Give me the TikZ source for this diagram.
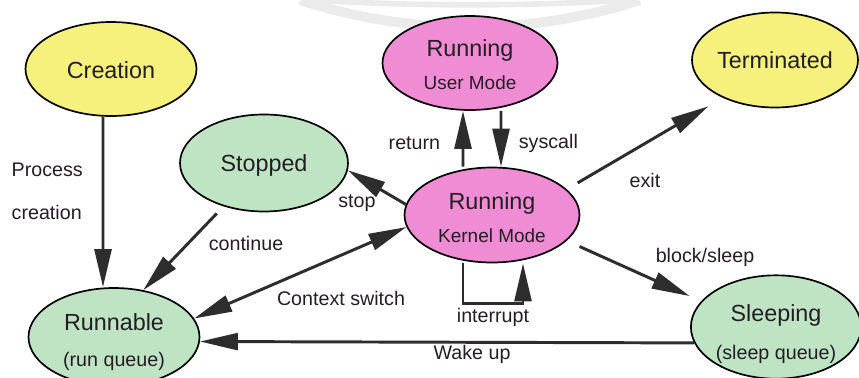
\documentclass[tikz,border=0pt]{standalone}
\usepackage{fontspec}
\setmainfont{Liberation Sans}
\usetikzlibrary{arrows.meta,
                shapes.geometric}

\definecolor{yellowstate}{RGB}{246,240,124}
\definecolor{greenstate}{RGB}{190,228,196}
\definecolor{pinkstate}{RGB}{240,140,212}
\definecolor{inkgray}{RGB}{35,30,35}
\definecolor{linegray}{RGB}{45,45,45}
\definecolor{bandgray}{RGB}{235,235,235}

\newcommand{\statesize}{\fontsize{16.6}{19}\selectfont}
\newcommand{\modesize}{\fontsize{13.5}{16}\selectfont}

\begin{document}
\begin{tikzpicture}%
            [state/.style = {ellipse, draw = black, line width = 1.2pt, inner sep = 0pt,
                             text = inkgray, align = center},
             lbl/.style = {font = \fontsize{14}{16}\selectfont, text = inkgray, inner sep = 1pt},
             flow/.style = {draw = linegray, line width = 2.1pt,
                            -{Triangle[length = 27pt, width = 12pt]}},
             flowboth/.style = {flow, {Triangle[length = 27pt, width = 12pt]}-{Triangle[length = 27pt, width = 12pt]}},
             band/.style = {draw = bandgray, line width = 7pt}]
            \useasboundingbox (0,0) rectangle (21.475,9.425);
            \begin{scope}
                \clip (0,0) rectangle (21.475,9.425);
                \draw [band] (11.75,22.47) ++(252:13.72) arc [start angle = 252, end angle = 288, radius = 13.72];
                \draw [band, line width = 4pt] (11.75,73.35) ++(266.4:64.05) arc [start angle = 266.4, end angle = 273.6, radius = 64.05];
            \end{scope}

            % states
            \node [state, fill = yellowstate, minimum width = 4.275cm, minimum height = 2.35cm] (creation) at (2.775,7.7) {\rule{0pt}{13pt}\statesize Creation};
            \node [state, fill = pinkstate, minimum width = 4.375cm, minimum height = 2.35cm] (user) at (11.75,7.85) {\statesize\rule{0pt}{14pt}Running\\[9pt]\modesize User Mode};
            \node [state, fill = yellowstate, minimum width = 4.15cm, minimum height = 2.375cm] (terminated) at (19.375,7.925) {\statesize Terminated};
            \node [state, fill = greenstate, minimum width = 4.2cm, minimum height = 2.425cm] (stopped) at (6.6,5.35) {\statesize\rule{0pt}{15pt}Stopped};
            \node [state, fill = pinkstate, minimum width = 4.375cm, minimum height = 2.375cm] (kernel) at (12.3,4.05) {\statesize\rule{0pt}{16pt}Running\\[9.5pt]\modesize Kernel Mode};
            \node [state, fill = greenstate, minimum width = 4.275cm, minimum height = 2.45cm] (runnable) at (2.85,1.0) {\statesize\rule{0pt}{19pt}Runnable\\[13.5pt]\fontsize{14}{16}\selectfont (run queue)};
            \node [state, fill = greenstate, minimum width = 4.075cm, minimum height = 2.45cm] (sleeping) at (19.4,1.25) {\statesize\rule{0pt}{22pt}Sleeping\\[12.5pt]\fontsize{14}{16}\selectfont (sleep queue)};

            % transitions
            \draw [flow] ([xshift = -0.2cm]creation.south) -- ([xshift = -0.275cm]runnable.north);
            \draw [flow, shorten <= 7pt] (stopped.227) -- (runnable.58);
            \draw [flowboth] (runnable.13) -- (kernel.188);
            \draw [flow] (kernel.173) -- (stopped.355);
            \draw [flow] ([xshift = -0.725cm]kernel.north) -- ([xshift = -0.175cm]user.south);
            \draw [flow] ([xshift = 0.775cm]user.south) -- ([xshift = 0.225cm]kernel.north);
            \draw [flow, shorten <= 9pt, shorten >= 12pt] (kernel.19) -- (terminated.216);
            \draw [flow, shorten <= 10pt, shorten >= 9pt] (kernel.341) -- (sleeping.161);
            \draw [flow] ([xshift = -0.725cm]kernel.south) -- ++(0,-1.0) -| ([xshift = 0.775cm]kernel.south);
            \draw [flow] (sleeping.191) -- (runnable.357);

            % labels
            \node [lbl, anchor = west] (process) at (0.25,5.175) {Process};
            \node [lbl, anchor = west] (creationlbl) at (0.25,4.125) {creation};
            \node [lbl] (continue) at (6.15,3.35) {continue};
            \node [lbl] (stop) at (8.925,4.35) {stop};
            \node [lbl] (return) at (10.36,5.85) {return};
            \node [lbl] (syscall) at (13.71,5.85) {syscall};
            \node [lbl] (exit) at (16.125,4.925) {exit};
            \node [lbl] (block) at (17.625,3.0) {block/sleep};
            \node [lbl] (context) at (8.525,1.975) {Context switch};
            \node [lbl] (interrupt) at (12.325,1.5) {interrupt};
            \node [lbl] (wake) at (11.8,0.575) {Wake up};
        \end{tikzpicture}
\end{document}
